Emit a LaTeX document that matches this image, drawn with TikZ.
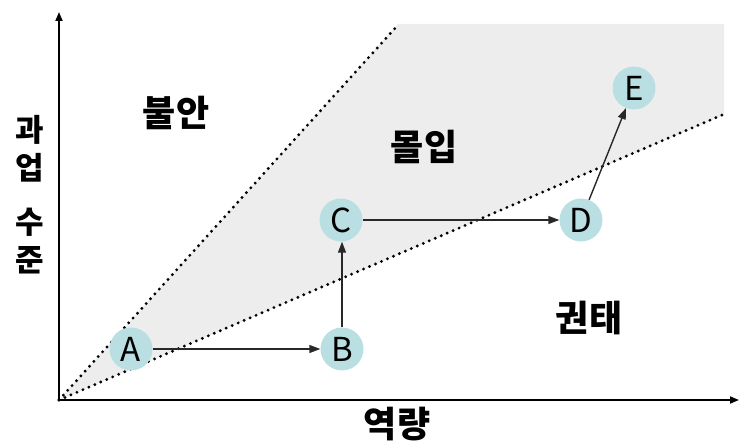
\documentclass[tikz,border=0pt]{standalone}
\usepackage{fontspec}
\setmainfont{Noto Sans CJK KR}
\usetikzlibrary{arrows.meta}
\definecolor{zonebg}{RGB}{237,237,237}
\definecolor{stagebg}{RGB}{186,223,227}
\definecolor{flowcol}{RGB}{40,40,40}
\tikzset{
    axisarrow/.style={-{Triangle[length=9pt,width=7pt]}, line width=1.8pt, black},
    boundary/.style={line width=3.2pt, dash pattern=on 0pt off 6.5pt, line cap=round},
    stage/.style={circle, fill=stagebg, minimum size=43pt, inner sep=0pt, font=\fontsize{33}{33}\selectfont},
    stagearrow/.style={-{Triangle[length=11pt,width=8pt]}, line width=1.4pt, flowcol},
    zonelabel/.style={font=\fontsize{36}{40}\selectfont\bfseries}
}

\begin{document}
\begin{tikzpicture}[x=1pt, y=-1pt]
    \useasboundingbox (0,0) rectangle (739,441);
    % flow zone
    \fill[zonebg] (59,400) -- (398,24) -- (724,24) -- (724,115) -- cycle;
    \coordinate (origin) at (59,400);
    \coordinate (ytip) at (59,12);
    \coordinate (xtip) at (739,400);
    \coordinate (upper) at (398,25);
    \coordinate (lower) at (722,115);
    \draw[boundary] (origin) -- (upper);
    \draw[boundary] (origin) -- (lower);
    \draw[axisarrow] (origin) -- (ytip);
    \draw[axisarrow] (origin) -- (xtip);

    \node[zonelabel] (anxiety) at (176,113) {불안};
    \node[zonelabel] (flow) at (424,147) {몰입};
    \node[zonelabel] (boredom) at (589,318) {권태};
    \node[zonelabel] (skill) at (397,424) {역량};
    \node[zonelabel, align=center, font=\fontsize{31}{38}\selectfont\bfseries] (challenge) at (30,195) {과\\업\\[16pt]수\\준};

    \node[stage] (A) at (131,349) {A};
    \node[stage] (B) at (342,349) {B};
    \node[stage] (C) at (341,220) {C};
    \node[stage] (D) at (581,220) {D};
    \node[stage] (E) at (634,88) {E};

    \draw[stagearrow] (A) -- (B);
    \draw[stagearrow] (B.north) -- (B.north |- C.south);
    \draw[stagearrow] (C) -- (D);
    \draw[stagearrow] (D) -- (E);
\end{tikzpicture}
\end{document}
